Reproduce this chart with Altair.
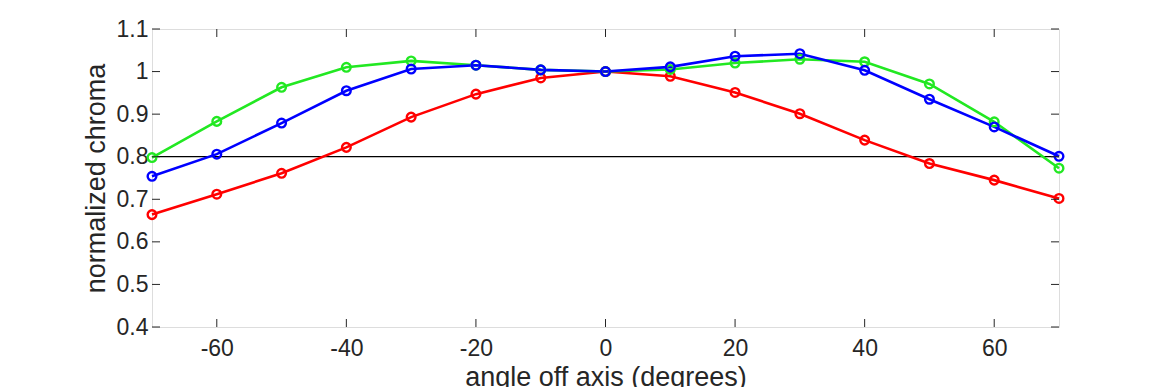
import altair as alt
import pandas as pd

angles = [-70, -60, -50, -40, -30, -20, -10, 0, 10, 20, 30, 40, 50, 60, 70]
red = [0.664, 0.712, 0.761, 0.822, 0.893, 0.947, 0.985, 1.0, 0.989, 0.951, 0.901, 0.839, 0.784, 0.745, 0.702]
green = [0.798, 0.883, 0.963, 1.010, 1.025, 1.015, 1.004, 1.0, 1.005, 1.020, 1.029, 1.023, 0.971, 0.882, 0.773]
blue = [0.754, 0.806, 0.879, 0.955, 1.006, 1.015, 1.004, 1.0, 1.011, 1.036, 1.042, 1.003, 0.935, 0.870, 0.801]
series_names = ["red", "green", "blue"]
series_colors = ["#ff0000", "#22e822", "#0000ff"]
x_ticks = [-60, -40, -20, 0, 20, 40, 60]
y_ticks = [0.4, 0.5, 0.6, 0.7, 0.8, 0.9, 1.0, 1.1]
ref_value = [0.8]

rows = []
for name, vals in zip(series_names, [red, green, blue]):
    for a, v in zip(angles, vals):
        rows.append({"angle": a, "chroma": v, "series": name})
df = pd.DataFrame(rows)

W, H = 907, 298
FONT = "Liberation Sans"
AX = "#262626"

xs = alt.Scale(domain=[-70, 70], nice=False, zero=False)
ys = alt.Scale(domain=[0.4, 1.1], nice=False, zero=False)
cs = alt.Scale(domain=series_names, range=series_colors)

x_axis = alt.Axis(values=x_ticks, title="angle off axis (degrees)", grid=False, domain=False,
                  ticks=False, labelFontSize=23, labelColor=AX, labelPadding=10,
                  labelExpr="datum.value < 0 ? '-' + abs(datum.value) : '' + datum.value",
                  titleFontSize=27, titleFontWeight="normal", titleColor=AX, titlePadding=4,
                  labelFont=FONT, titleFont=FONT)
y_axis = alt.Axis(values=y_ticks, title="normalized chroma", grid=False, domain=False,
                  ticks=False, format=".2~f", labelFontSize=23, labelColor=AX, labelPadding=4,
                  titleFontSize=27, titleFontWeight="normal", titleColor=AX, titlePadding=6,
                  labelFont=FONT, titleFont=FONT)

base = alt.Chart(df)

ref = alt.Chart(pd.DataFrame({"v": ref_value})).mark_rule(color="black", strokeWidth=1.3).encode(
    y=alt.Y("v:Q", scale=ys, axis=y_axis)
)

lines = base.mark_line(strokeWidth=2.6).encode(
    x=alt.X("angle:Q", scale=xs, axis=x_axis),
    y=alt.Y("chroma:Q", scale=ys, axis=y_axis),
    color=alt.Color("series:N", scale=cs, legend=None, sort=series_names),
    detail="series:N",
)
points = base.mark_point(filled=False, size=75, strokeWidth=2.4, opacity=1).encode(
    x=alt.X("angle:Q", scale=xs),
    y=alt.Y("chroma:Q", scale=ys),
    color=alt.Color("series:N", scale=cs, legend=None),
)

xt = pd.DataFrame({"t": x_ticks})
yt = pd.DataFrame({"t": y_ticks})
tick_len = 8
xb = alt.Chart(xt).mark_rule(color=AX, strokeWidth=1).encode(
    x=alt.X("t:Q", scale=xs), y=alt.value(H), y2=alt.value(H - tick_len))
xtop = alt.Chart(xt).mark_rule(color=AX, strokeWidth=1).encode(
    x=alt.X("t:Q", scale=xs), y=alt.value(0), y2=alt.value(tick_len))
yl = alt.Chart(yt).mark_rule(color=AX, strokeWidth=1).encode(
    y=alt.Y("t:Q", scale=ys), x=alt.value(0), x2=alt.value(tick_len))
yr = alt.Chart(yt).mark_rule(color=AX, strokeWidth=1).encode(
    y=alt.Y("t:Q", scale=ys), x=alt.value(W), x2=alt.value(W - tick_len))

chart = alt.layer(ref, lines, points, xb, xtop, yl, yr).properties(
    width=W, height=H,
    padding={"left": 144, "top": 21, "right": 100, "bottom": 60},
    autosize=alt.AutoSizeParams(type="none"),
).configure_view(stroke=AX, strokeWidth=1.3).configure(background="white")

chart.save("out.html", embed_options={"renderer": "svg", "actions": False})
